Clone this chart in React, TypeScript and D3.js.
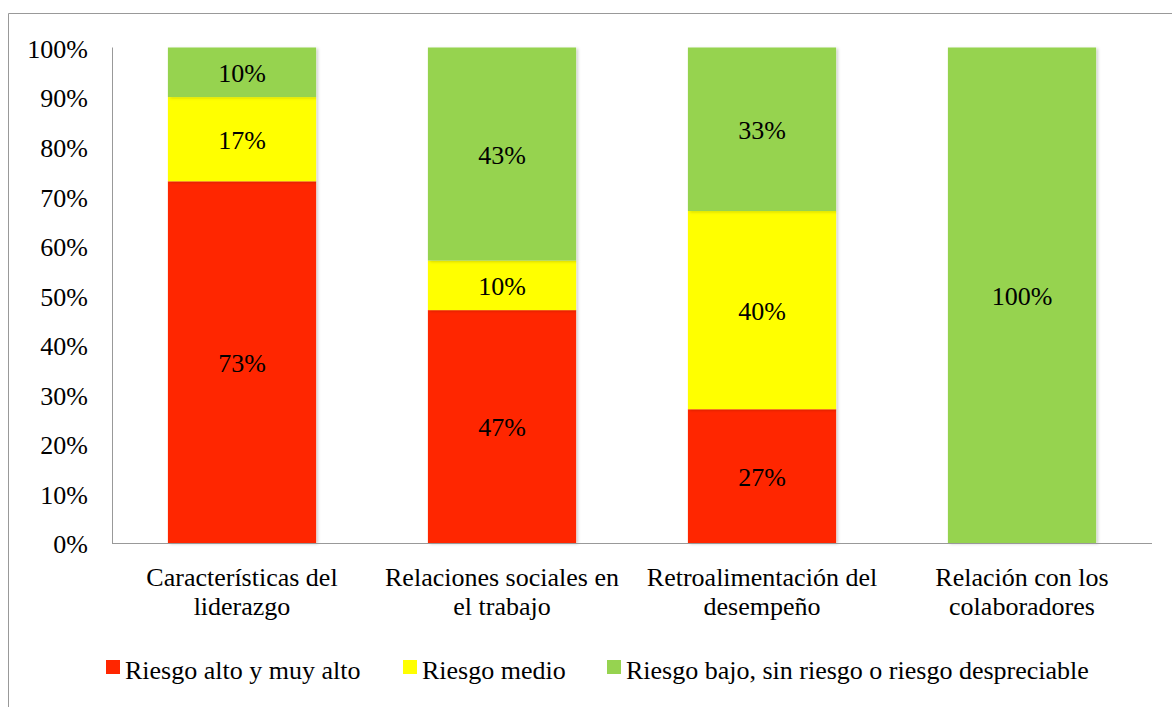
import React from "react";
import * as d3 from "d3";

const categories = [
  ["Características del", "liderazgo"],
  ["Relaciones sociales en", "el trabajo"],
  ["Retroalimentación del", "desempeño"],
  ["Relación con los", "colaboradores"],
];
const seriesNames = [
  "Riesgo alto y muy alto",
  "Riesgo medio",
  "Riesgo bajo, sin riesgo o riesgo despreciable",
];
const alto = [73, 47, 27, 0];
const medio = [17, 10, 40, 0];
const bajo = [10, 43, 33, 100];
const yTicks = [0, 10, 20, 30, 40, 50, 60, 70, 80, 90, 100];
const colors = ["#FF2600", "#FFFF00", "#96D350"];

export default function App() {
  const W = 1172, H = 707;
  const x0 = 112, x1 = 1152, yTop = 47.5, yBot = 543;
  const font = "Liberation Serif, Times New Roman, Times, serif";
  const fs = 26;
  const keys = categories.map((_, i) => String(i));
  const x = d3.scaleBand().domain(keys).range([x0, x1]).paddingInner(0.43).paddingOuter(0.215);
  const y = d3.scaleLinear().domain([0, 100]).range([yBot, yTop]);
  const rows = categories.map((_, i) => ({ key: String(i), s0: alto[i], s1: medio[i], s2: bajo[i] }));
  const stack = d3.stack<any>().keys(["s0", "s1", "s2"])(rows);

  const legendItems = [
    { sx: 106, tx: 125 },
    { sx: 403, tx: 422 },
    { sx: 607, tx: 626 },
  ];
  const ts: React.CSSProperties = { fontFamily: font, fontSize: fs, fill: "#000" };

  return (
    <svg width={W} height={H} style={{ position: "absolute", left: 0, top: 0, fontFamily: font }}>
      <defs>
        <filter id="sh" x="-10%" y="-10%" width="130%" height="130%">
          <feDropShadow dx="2" dy="1" stdDeviation="1.5" floodColor="#000" floodOpacity="0.18" />
        </filter>
      </defs>
      <rect width={W} height={H} fill="#fff" />
      <line x1={8.5} x2={W} y1={13.5} y2={13.5} stroke="#999" strokeWidth={1} />
      <line x1={8.5} x2={8.5} y1={13.5} y2={H} stroke="#999" strokeWidth={1} />
      {stack.map((layer, si) => (
        <g key={si} fill={colors[si]}>
          {layer.map((d: any, i: number) =>
            d[1] - d[0] > 0 ? (
              <rect key={i} x={x(d.data.key)} width={x.bandwidth()} y={y(d[1])} height={y(d[0]) - y(d[1])} filter="url(#sh)" />
            ) : null
          )}
        </g>
      ))}
      {stack.map((layer, si) =>
        layer.map((d: any, i: number) =>
          d[1] - d[0] > 0 ? (
            <text key={`${si}-${i}`} x={(x(d.data.key) as number) + x.bandwidth() / 2} y={y((d[0] + d[1]) / 2)} dy="0.38em" textAnchor="middle" style={ts}>
              {`${d[1] - d[0]}%`}
            </text>
          ) : null
        )
      )}
      <line x1={x0 + 0.5} x2={x0 + 0.5} y1={yTop} y2={yBot} stroke="#999" />
      <line x1={x0} x2={x1} y1={yBot + 0.5} y2={yBot + 0.5} stroke="#999" />
      {yTicks.map((t) => (
        <text key={t} x={88} y={y(t)} dy="0.4em" textAnchor="end" style={ts}>{`${t}%`}</text>
      ))}
      {categories.map((c, i) => (
        <text key={i} x={(x(String(i)) as number) + x.bandwidth() / 2} textAnchor="middle" style={ts}>
          <tspan x={(x(String(i)) as number) + x.bandwidth() / 2} y={586}>{c[0]}</tspan>
          <tspan x={(x(String(i)) as number) + x.bandwidth() / 2} y={615}>{c[1]}</tspan>
        </text>
      ))}
      {seriesNames.map((n, i) => (
        <g key={i}>
          <rect x={legendItems[i].sx} y={660} width={14} height={14} fill={colors[i]} />
          <text x={legendItems[i].tx} y={679} style={ts}>{n}</text>
        </g>
      ))}
    </svg>
  );
}
